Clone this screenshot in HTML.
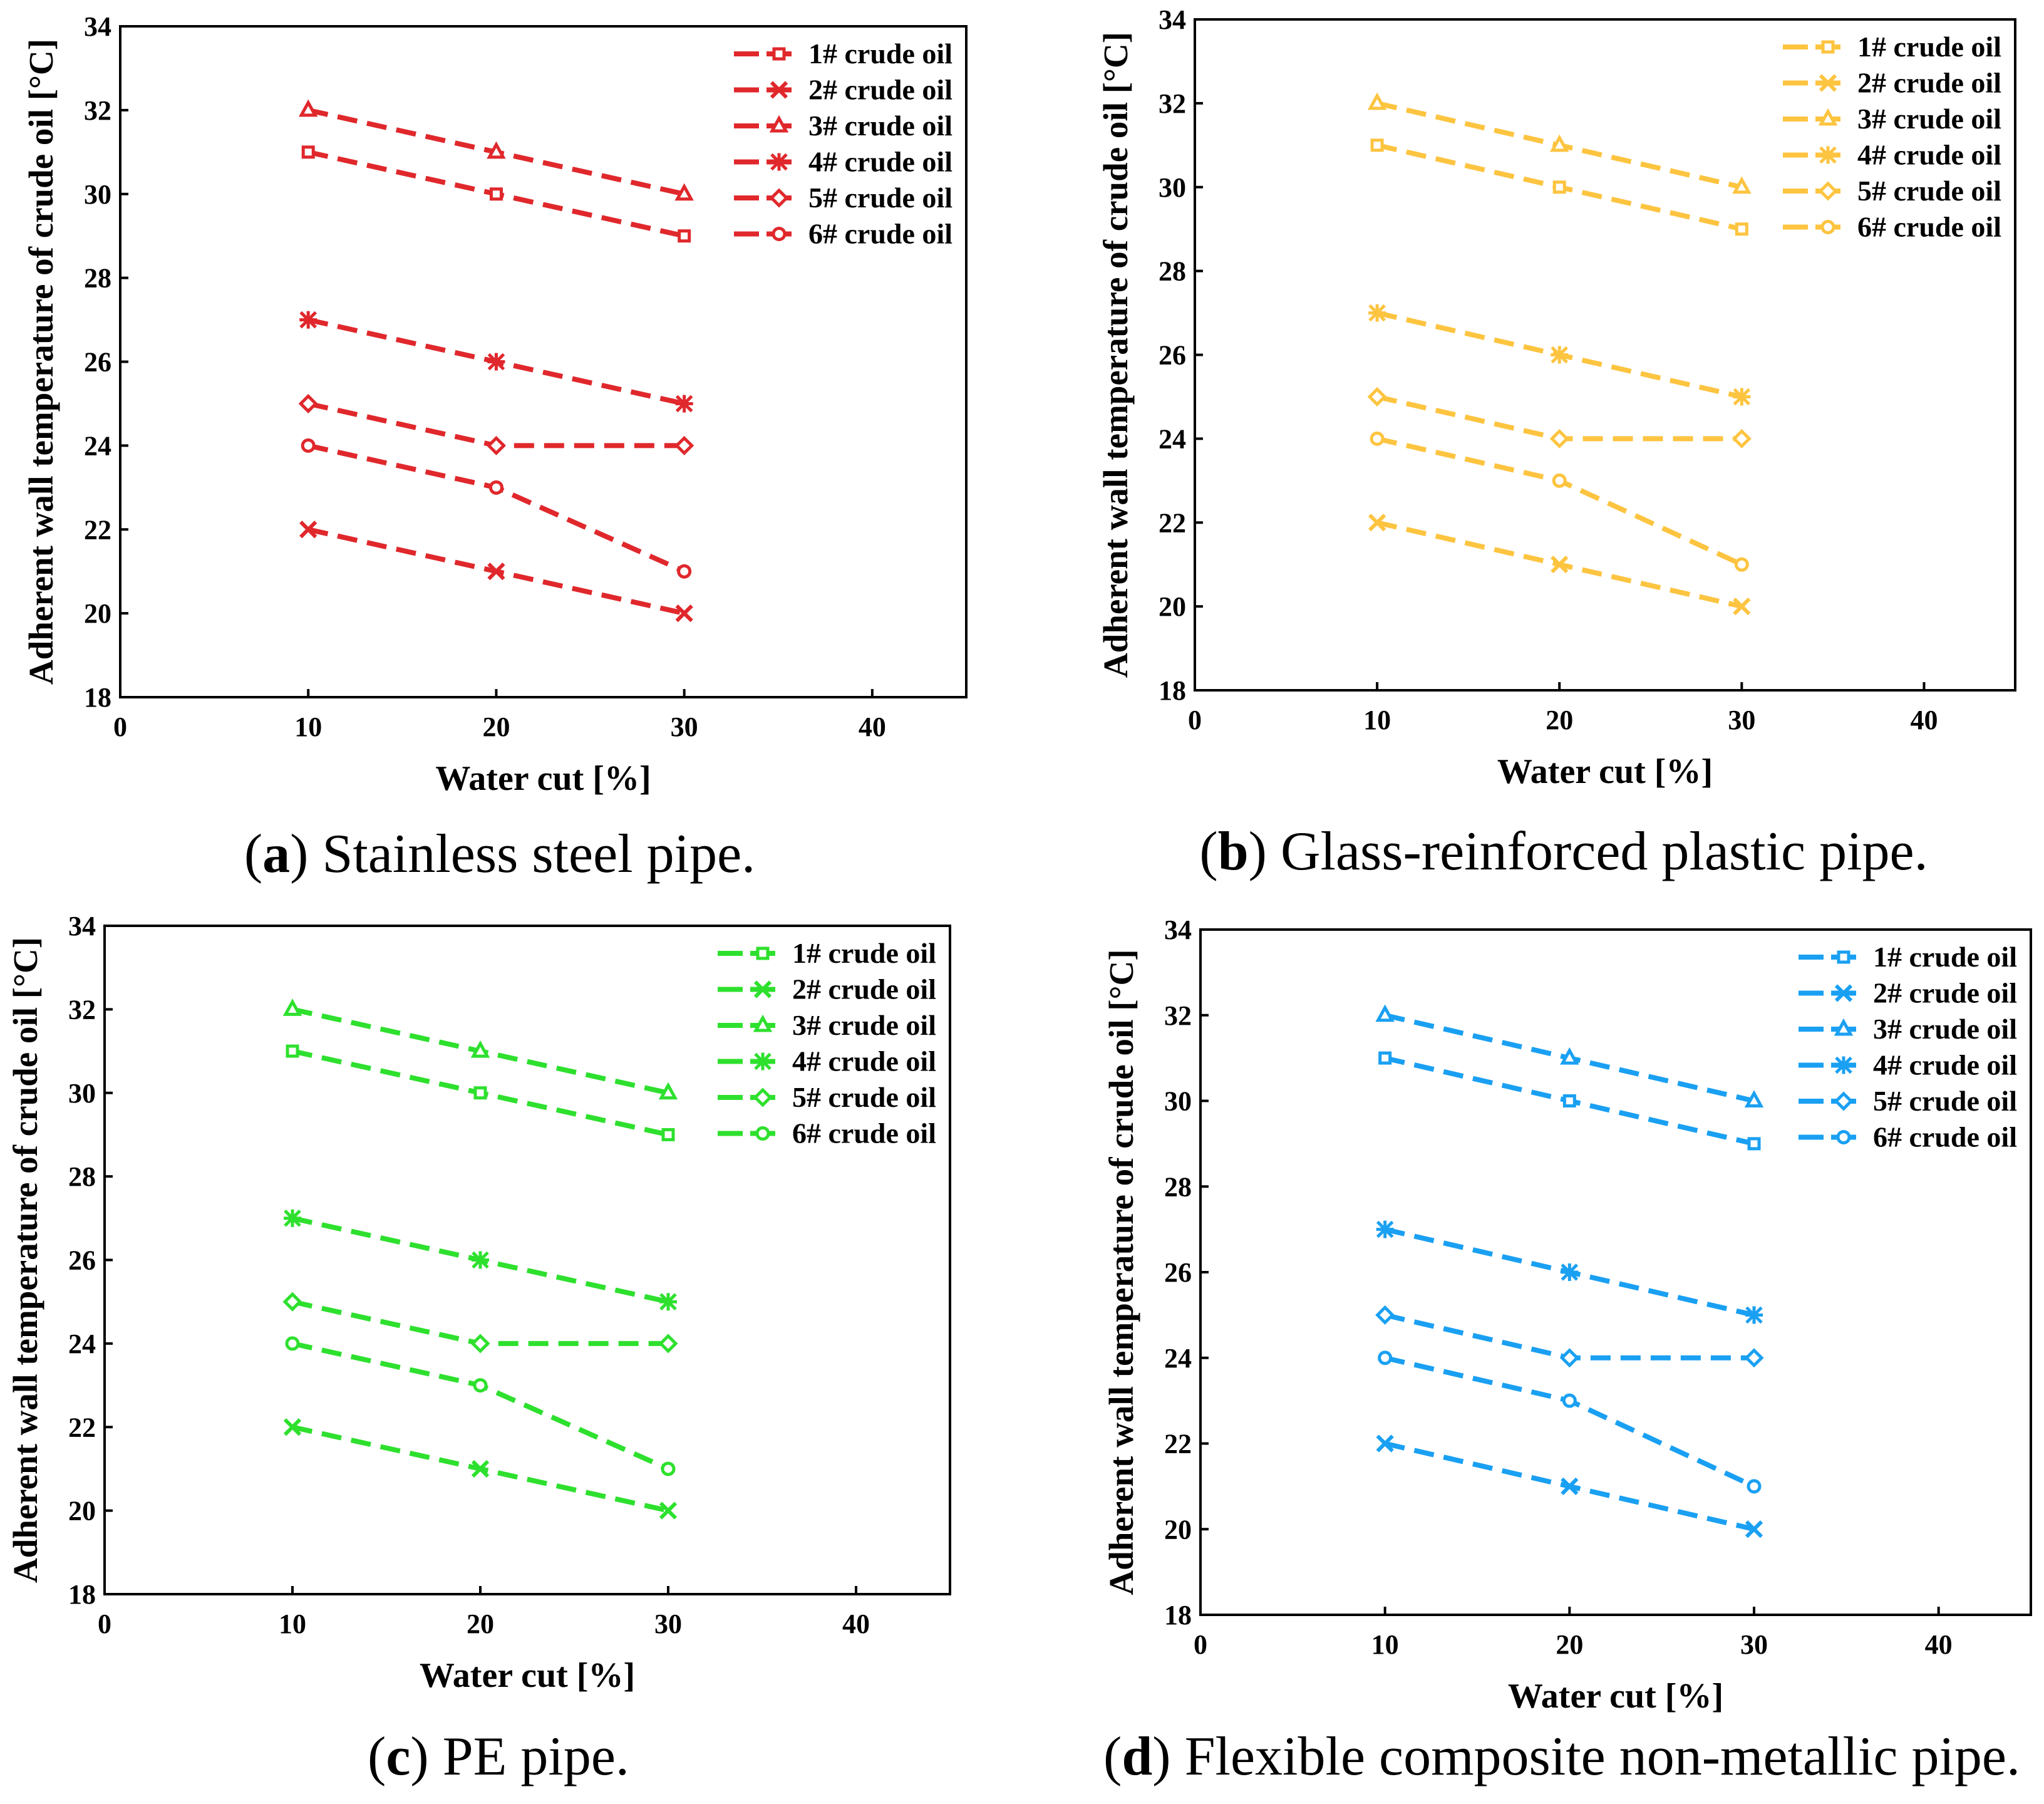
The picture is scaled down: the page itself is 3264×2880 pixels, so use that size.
<!DOCTYPE html>
<html><head><meta charset="utf-8"><style>
html,body{margin:0;padding:0;background:#fff;}
svg{display:block;font-family:"Liberation Serif",serif;}
</style></head><body>
<svg id="fig" width="3264" height="2880" xmlns="http://www.w3.org/2000/svg"></svg>
<script>
const categories = [10, 20, 30];
const seriesNames = ["1# crude oil","2# crude oil","3# crude oil","4# crude oil","5# crude oil","6# crude oil"];
const s1 = [31, 30, 29];
const s2 = [22, 21, 20];
const s3 = [32, 31, 30];
const s4 = [27, 26, 25];
const s5 = [25, 24, 24];
const s6 = [24, 23, 21];
const markers = ["square","x","triangle","star","diamond","circle"];
const xTicks = [0, 10, 20, 30, 40];
const yTicks = [18, 20, 22, 24, 26, 28, 30, 32, 34];
const captionLetters = ["a","b","c","d"];
const captionTexts = [" Stainless steel pipe."," Glass-reinforced plastic pipe."," PE pipe."," Flexible composite non-metallic pipe."];

const panels = [
 {id:"a", color:"#e0282c", L:192, R:1543, T:42, B:1113, cx:798, cy:1392},
 {id:"b", color:"#fdc440", L:1908, R:3218, T:31, B:1102, cx:2497, cy:1388},
 {id:"c", color:"#2ee02e", L:167, R:1517, T:1478, B:2545, cx:796, cy:2833},
 {id:"d", color:"#1aa0f2", L:1917, R:3243, T:1484, B:2578, cx:2494, cy:2833}
];
const NS="http://www.w3.org/2000/svg";
const svg=document.getElementById("fig");
function mk(tag,attrs,parent){const e=document.createElementNS(NS,tag);for(const k in attrs)e.setAttribute(k,attrs[k]);(parent||svg).appendChild(e);return e;}

function drawMarker(g,type,x,y,c){
  const r=10, sw=5;
  let m;
  if(type==="square") m=mk("rect",{x:x-8,y:y-8,width:16,height:16,fill:"#fff",stroke:c,"stroke-width":sw},g);
  else if(type==="circle") m=mk("circle",{cx:x,cy:y,r:9,fill:"#fff",stroke:c,"stroke-width":sw},g);
  else if(type==="triangle") m=mk("polygon",{points:`${x},${y-12} ${x+11},${y+8} ${x-11},${y+8}`,fill:"#fff",stroke:c,"stroke-width":sw},g);
  else if(type==="diamond") m=mk("polygon",{points:`${x},${y-12} ${x+12},${y} ${x},${y+12} ${x-12},${y}`,fill:"#fff",stroke:c,"stroke-width":sw},g);
  else if(type==="x") m=mk("path",{d:`M${x-r-2},${y-r-2}L${x+r+2},${y+r+2}M${x-r-2},${y+r+2}L${x+r+2},${y-r-2}`,stroke:c,"stroke-width":6,fill:"none"},g);
  else m=mk("path",{d:`M${x-r-2},${y-r-2}L${x+r+2},${y+r+2}M${x-r-2},${y+r+2}L${x+r+2},${y-r-2}M${x-14},${y}L${x+14},${y}M${x},${y-14}L${x},${y+14}`,stroke:c,"stroke-width":5,fill:"none"},g);
  return m;
}

const allSeries=[s1,s2,s3,s4,s5,s6];
panels.forEach((p,pi)=>{
  const g=mk("g",{});
  
  
  const xs=v=>p.L+(v-0)/(45-0)*(p.R-p.L);
  const ys=v=>p.B-(v-18)/(34-18)*(p.B-p.T);
  allSeries.forEach((data,si)=>{
    const sg=mk("g",{},g);
    
    
    const pts=data.map((v,i)=>xs(categories[i])+","+ys(v)).join(" ");
    mk("polyline",{points:pts,fill:"none",stroke:p.color,"stroke-width":8,"stroke-dasharray":"32 16"},sg);
    data.forEach((v,i)=>{
      const m=drawMarker(sg,markers[si],xs(categories[i]),ys(v),p.color);
      
      
    });
  });
  const fr=mk("rect",{x:p.L,y:p.T,width:p.R-p.L,height:p.B-p.T,fill:"none",stroke:"#000","stroke-width":4},g);
  
  
  xTicks.forEach(t=>{
    mk("line",{x1:xs(t),x2:xs(t),y1:p.B,y2:p.B-13,stroke:"#000","stroke-width":4},g);
    const tx=mk("text",{x:xs(t),y:p.B+62,"font-size":44,"font-weight":"bold","text-anchor":"middle"},g);
    tx.textContent=t;
    
    
  });
  yTicks.forEach(t=>{
    mk("line",{x1:p.L,x2:p.L+13,y1:ys(t),y2:ys(t),stroke:"#000","stroke-width":4},g);
    const tx=mk("text",{x:p.L-14,y:ys(t)+15,"font-size":44,"font-weight":"bold","text-anchor":"end"},g);
    tx.textContent=t;
    
    
  });
  const xt=mk("text",{x:(p.L+p.R)/2,y:p.B+148,"font-size":56,"font-weight":"bold","text-anchor":"middle"},g);
  xt.textContent="Water cut [%]";
  
  
  const yc=(p.T+p.B)/2, yx=p.L-108;
  const yt=mk("text",{x:yx,y:yc,"font-size":55,"font-weight":"bold","text-anchor":"middle",transform:`rotate(-90 ${yx} ${yc})`},g);
  yt.textContent="Adherent wall temperature of crude oil [°C]";
  
  
  const lg=mk("g",{},g);
  
  
  seriesNames.forEach((n,si)=>{
    const ry=p.T+44+si*57.5;
    const x0=p.R-371, x1=p.R-268;
    const e=mk("g",{},lg);
    
    
    mk("line",{x1:x0,x2:x1,y1:ry,y2:ry,stroke:p.color,"stroke-width":8,"stroke-dasharray":"40 12"},e);
    drawMarker(e,markers[si],x0+72,ry,p.color);
    const t=mk("text",{x:p.R-252,y:ry+15,"font-size":46,"font-weight":"bold"},e);
    t.textContent=n;
  });
  const cap=mk("text",{x:p.cx,y:p.cy,"font-size":88,"text-anchor":"middle"},svg);
  
  
  const t1=mk("tspan",{},cap); t1.textContent="(";
  const t2=mk("tspan",{"font-weight":"bold"},cap); t2.textContent=captionLetters[pi];
  const t3=mk("tspan",{},cap); t3.textContent=")"+captionTexts[pi];
});
</script>
</body></html>
